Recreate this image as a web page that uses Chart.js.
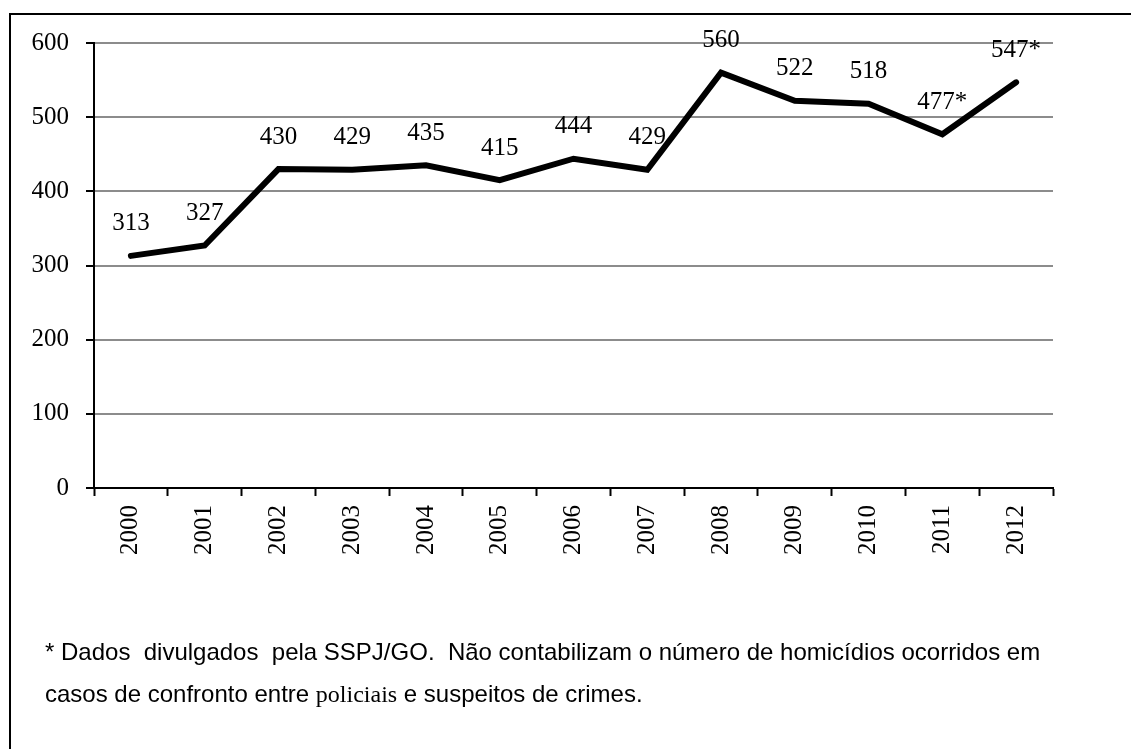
<!DOCTYPE html>
<html>
<head>
<meta charset="utf-8">
<script src="https://cdn.jsdelivr.net/npm/chart.js@4.4.1/dist/chart.umd.min.js"></script>
<style>
  html, body { margin: 0; padding: 0; background: #fff; }
  #wrap { position: relative; width: 1131px; height: 749px; overflow: hidden; }
  #frame { position: absolute; left: 9px; top: 13px; width: 1200px; height: 800px;
           border-left: 2px solid #000; border-top: 2px solid #000; }
  canvas { position: absolute; left: 0; top: 0; }
  .note { position: absolute; left: 45px; font-family: "Liberation Sans", Arial, sans-serif;
          font-size: 24px; line-height: 24px; color: #000; white-space: pre; }
  .note .tnr { font-family: "Liberation Serif", "Times New Roman", serif; }
</style>
</head>
<body>
<div id="wrap">
  <div id="frame"></div>
  <canvas id="chart" width="1131" height="749"></canvas>
  <div class="note" style="top:640px">* Dados  divulgados  pela SSPJ/GO.  Não contabilizam o número de homicídios ocorridos em</div>
  <div class="note" style="top:682px">casos de confronto entre <span class="tnr">policiais</span> e suspeitos de crimes.</div>
</div>
<script>
// homicidios por ano
const years = ['2000', '2001', '2002', '2003', '2004', '2005', '2006',
               '2007', '2008', '2009', '2010', '2011', '2012'];
const homicides = [313, 327, 430, 429, 435, 415, 444, 429, 560, 522, 518, 477, 547];
const notes = ['', '', '', '', '', '', '', '', '', '', '', '*', '*'];
const yTicks = [0, 100, 200, 300, 400, 500, 600];

const serif = '"Liberation Serif", "Times New Roman", serif';

// labels above each point
const valueLabels = {
  id: 'valueLabels',
  afterDatasetsDraw(chart) {
    const ctx = chart.ctx;
    const meta = chart.getDatasetMeta(0);
    ctx.save();
    ctx.font = '25px ' + serif;
    ctx.fillStyle = '#000';
    ctx.textAlign = 'center';
    ctx.textBaseline = 'middle';
    meta.data.forEach((pt, i) => {
      ctx.fillText(homicides[i] + notes[i], pt.x, pt.y - 32);
    });
    ctx.restore();
  }
};

new Chart(document.getElementById('chart'), {
  type: 'line',
  data: {
    labels: years,
    datasets: [{
      data: homicides,
      borderColor: '#000',
      borderWidth: 6,
      borderCapStyle: 'round',
      pointRadius: 0,
      tension: 0,
      fill: false
    }]
  },
  options: {
    responsive: false,
    animation: false,
    events: [],
    layout: { padding: { left: 0, top: 43, right: 78, bottom: 0 } },
    plugins: { legend: { display: false }, tooltip: { enabled: false } },
    scales: {
      x: {
        offset: true,
        grid: { offset: true, drawOnChartArea: false, tickLength: 8, tickColor: '#000', tickWidth: 2 },
        border: { color: '#000', width: 2 },
        ticks: { color: '#000', font: { family: serif, size: 25 }, minRotation: 90, maxRotation: 90, padding: 9 },
        afterFit(s) { s.height = 261; }
      },
      y: {
        min: 0,
        max: 600,
        afterBuildTicks(s) { s.ticks = yTicks.map(v => ({ value: v })); },
        grid: { color: '#8c8c8c', lineWidth: 2, tickLength: 8, tickColor: '#000', tickWidth: 2 },
        border: { color: '#000', width: 2 },
        ticks: { color: '#000', font: { family: serif, size: 25 }, padding: 17 },
        afterFit(s) { s.width = 94; }
      }
    }
  },
  plugins: [valueLabels]
});
</script>
</body>
</html>
